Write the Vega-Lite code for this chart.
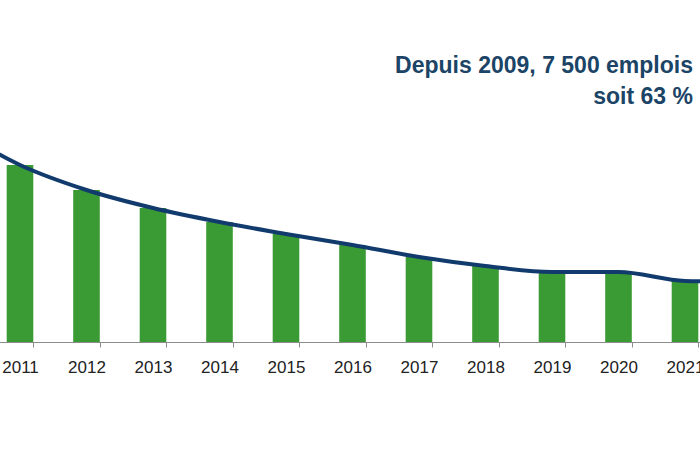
{
  "$schema": "https://vega.github.io/schema/vega-lite/v6.json",
  "width": 700,
  "height": 232,
  "padding": {"top": 110, "left": 0, "right": 0, "bottom": 108},
  "autosize": "none",
  "background": "white",
  "config": {"view": {"stroke": null}},
  "title": {
    "text": ["Depuis 2009, 7 500 emplois", "soit 63 %"],
    "anchor": "end",
    "frame": "group",
    "align": "right",
    "font": "Liberation Sans",
    "fontSize": 23,
    "fontWeight": "bold",
    "color": "#1B4466",
    "lineHeight": 31,
    "dx": -7,
    "offset": 1
  },
  "data": {
    "values": [
      {"year": "2010", "value": 214},
      {"year": "2011", "value": 177},
      {"year": "2012", "value": 152},
      {"year": "2013", "value": 134},
      {"year": "2014", "value": 120},
      {"year": "2015", "value": 108},
      {"year": "2016", "value": 97},
      {"year": "2017", "value": 85},
      {"year": "2018", "value": 76},
      {"year": "2019", "value": 70},
      {"year": "2020", "value": 70},
      {"year": "2021", "value": 61},
      {"year": "2022", "value": 60}
    ]
  },
  "encoding": {
    "x": {
      "field": "year",
      "type": "ordinal",
      "scale": {
        "domain": ["2010","2011","2012","2013","2014","2015","2016","2017","2018","2019","2020","2021","2022"],
        "range": [-79.75, 784.75],
        "paddingInner": 0.6,
        "paddingOuter": 0.3
      },
      "axis": {
        "title": null,
        "labelAngle": 0,
        "labelOverlap": false,
        "domainColor": "#8c8c8c",
        "tickColor": "#8c8c8c",
        "tickSize": 5,
        "tickBand": "extent",
        "labelFont": "Liberation Sans",
        "labelFontSize": 17,
        "labelColor": "#222222",
        "labelPadding": 12,
        "grid": false
      }
    },
    "y": {
      "field": "value",
      "type": "quantitative",
      "scale": {"domain": [0, 232]},
      "axis": null
    }
  },
  "layer": [
    {"mark": {"type": "bar", "color": "#3A9B35", "clip": true}},
    {"mark": {"type": "line", "color": "#123B6D", "strokeWidth": 4, "interpolate": "monotone", "clip": true}}
  ]
}
